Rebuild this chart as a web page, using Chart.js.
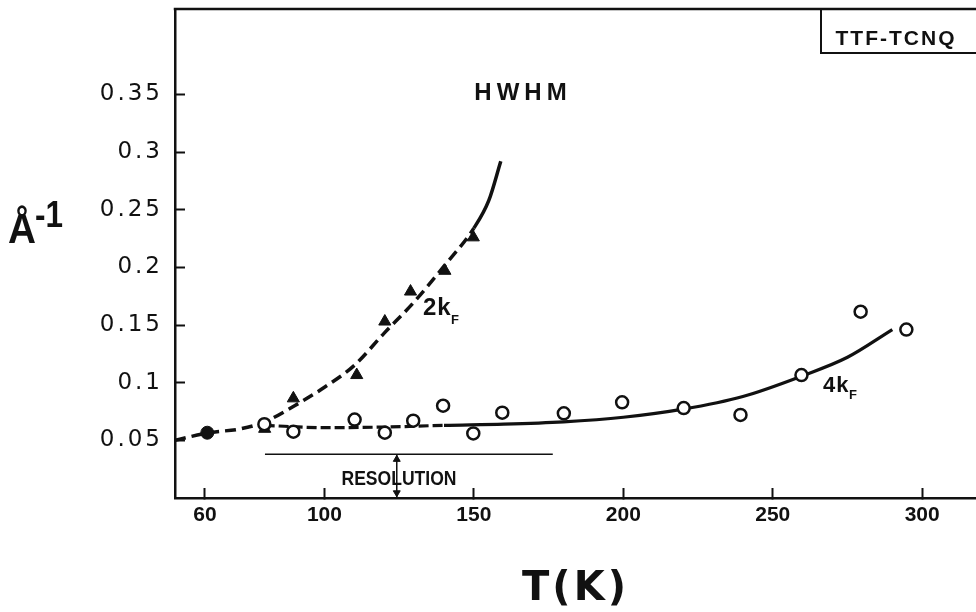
<!DOCTYPE html>
<html>
<head>
<meta charset="utf-8">
<title>TTF-TCNQ HWHM</title>
<script src="https://cdn.jsdelivr.net/npm/chart.js@4.4.1/dist/chart.umd.min.js"></script>
<style>
  html, body { margin: 0; padding: 0; background: #fff; }
  canvas { display: block; }
</style>
</head>
<body>
<canvas id="hwhmChart" width="976" height="612"></canvas>
<script>
// axis ticks
const tempTicks = [60, 100, 150, 200, 250, 300];
const widthTicks = [0.05, 0.1, 0.15, 0.2, 0.25, 0.3, 0.35];

const t2kF = [80, 89.6, 110.8, 120.2, 128.8, 140.3, 149.8];
const w2kF = [0.060, 0.0864, 0.1066, 0.153, 0.179, 0.197, 0.226];

const t4kF = [79.9, 89.6, 110.1, 120.2, 129.7, 139.7, 149.8, 159.5, 180.1, 199.6, 220.2, 239.2, 259.6, 279.4, 294.7];
const w4kF = [0.064, 0.0575, 0.068, 0.0566, 0.067, 0.080, 0.056, 0.074, 0.0734, 0.083, 0.078, 0.072, 0.1066, 0.1615, 0.146];

const tBoth = [60.8];
const wBoth = [0.0566];

// hand drawn guide curves
const tCurve2k = [50, 61, 72, 80, 90, 100, 110, 120, 130, 140, 150, 155, 159];
const wCurve2k = [0.050, 0.0565, 0.060, 0.066, 0.080, 0.096, 0.115, 0.143, 0.170, 0.201, 0.234, 0.258, 0.292];
const tCurve4k = [80, 100, 120, 140, 160, 180, 200, 220, 240, 260, 275, 290];
const wCurve4k = [0.063, 0.061, 0.0615, 0.063, 0.064, 0.066, 0.070, 0.077, 0.088, 0.106, 0.122, 0.146];

// resolution bar and its double arrow
const tResolution = [80.1, 176.4];
const wResolution = [0.038, 0.038];
const tArrow = [124.2, 124.2];
const wArrow = [0.038, 0];
const wArrowHeads = [0.0335, 0.0045];

const INK = '#111';
const pts = (xs, ys) => xs.map((x, i) => ({ x: x, y: ys[i] }));

function put(ctx, str, x, y, font, spacing, align, maxW) {
  ctx.font = font;
  ctx.letterSpacing = spacing || '0px';
  ctx.textAlign = align || 'center';
  if (maxW) ctx.fillText(str, x, y, maxW);
  else ctx.fillText(str, x, y);
}

// keep the plot area fixed: no extra room for edge labels
function noEdgePadding(s) {
  s.paddingTop = 0;
  s.paddingBottom = 0;
  s.paddingLeft = 0;
  s.paddingRight = 0;
}

const annotations = {
  id: 'annotations',
  beforeDraw(chart) {
    const ctx = chart.ctx;
    ctx.save();
    ctx.fillStyle = '#fff';
    ctx.fillRect(0, 0, chart.width, chart.height);
    ctx.restore();
    ctx.letterSpacing = '0px';
  },
  // y tick labels and the x title are drawn after this, spaced out like the original lettering
  afterDatasetsDraw(chart) {
    chart.ctx.letterSpacing = '3px';
  },
  afterDraw(chart) {
    const ctx = chart.ctx;
    const a = chart.chartArea;
    ctx.save();
    ctx.strokeStyle = INK;
    ctx.fillStyle = INK;

    // top of the frame
    ctx.lineWidth = 2.5;
    ctx.beginPath();
    ctx.moveTo(a.left - 1.25, a.top);
    ctx.lineTo(a.right, a.top);
    ctx.stroke();

    // compound box, top right
    ctx.lineWidth = 2;
    ctx.strokeRect(821, a.top, 200, 44);

    ctx.textBaseline = 'alphabetic';
    put(ctx, 'TTF-TCNQ', 896, 45, 'bold 21px "Liberation Sans"', '2px', 'center', 126);
    put(ctx, 'HWHM', 523, 100, 'bold 24px "Liberation Sans"', '5px');

    put(ctx, '2k', 423, 315, 'bold 24px "Liberation Sans"', '1px', 'left');
    put(ctx, 'F', 451, 324, 'bold 13px "Liberation Sans"', '0px', 'left');
    put(ctx, '4k', 823, 392, 'bold 22px "Liberation Sans"', '1px', 'left');
    put(ctx, 'F', 849, 399, 'bold 13px "Liberation Sans"', '0px', 'left');

    put(ctx, 'RESOLUTION', 399, 485, 'bold 20px "Liberation Sans"', '0px', 'center', 115);

    // y axis title
    put(ctx, 'Å', 8, 243, 'bold 43px "Liberation Sans"', '0px', 'left', 28);
    put(ctx, '-1', 35, 227, 'bold 36px "Liberation Sans"', '0px', 'left', 28);

    ctx.restore();
    ctx.letterSpacing = '0px';
  }
};

const ctx = document.getElementById('hwhmChart').getContext('2d');
new Chart(ctx, {
  type: 'scatter',
  data: {
    datasets: [
      {
        label: '2kF curve',
        data: pts(tCurve2k, wCurve2k),
        showLine: true,
        pointRadius: 0,
        borderColor: INK,
        borderWidth: 3.5,
        cubicInterpolationMode: 'monotone',
        segment: { borderDash: c => (c.p1.parsed.x <= 150.5 ? [11, 6] : undefined) },
        order: 5
      },
      {
        label: '4kF curve',
        data: pts(tCurve4k, wCurve4k),
        showLine: true,
        pointRadius: 0,
        borderColor: INK,
        borderWidth: 3.2,
        cubicInterpolationMode: 'monotone',
        segment: { borderDash: c => (c.p1.parsed.x <= 140.5 ? [10, 4] : undefined) },
        order: 5
      },
      {
        label: 'resolution',
        data: pts(tResolution, wResolution),
        showLine: true,
        pointRadius: 0,
        borderColor: INK,
        borderWidth: 1.5,
        order: 5
      },
      {
        label: 'resolution arrow',
        data: pts(tArrow, wArrow),
        showLine: true,
        pointRadius: 0,
        borderColor: INK,
        borderWidth: 1.5,
        order: 5
      },
      {
        label: 'arrow heads',
        data: pts(tArrow, wArrowHeads),
        pointStyle: 'triangle',
        pointRotation: [0, 180],
        pointRadius: 4,
        backgroundColor: INK,
        borderColor: INK,
        borderWidth: 1,
        order: 4
      },
      {
        label: '2kF',
        data: pts(t2kF, w2kF),
        pointStyle: 'triangle',
        pointRadius: 7,
        backgroundColor: INK,
        borderColor: INK,
        borderWidth: 1,
        order: 2
      },
      {
        label: '4kF',
        data: pts(t4kF, w4kF),
        pointStyle: 'circle',
        pointRadius: 6,
        backgroundColor: '#fff',
        borderColor: INK,
        borderWidth: 2.5,
        order: 1
      },
      {
        label: 'both',
        data: pts(tBoth, wBoth),
        pointStyle: 'circle',
        pointRadius: 6.5,
        backgroundColor: INK,
        borderColor: INK,
        borderWidth: 1,
        order: 0
      }
    ]
  },
  options: {
    responsive: false,
    animation: false,
    events: [],
    layout: { autoPadding: false, padding: { top: 9, left: 0, right: 0, bottom: 0 } },
    plugins: {
      legend: { display: false },
      tooltip: { enabled: false }
    },
    scales: {
      x: {
        type: 'linear',
        min: 50,
        max: 318,
        afterBuildTicks: s => { s.ticks = tempTicks.map(v => ({ value: v })); },
        afterFit: s => { s.height = 114; noEdgePadding(s); },
        ticks: {
          color: INK,
          font: { family: 'Liberation Sans', size: 21, weight: 'bold' },
          padding: 15,
          maxRotation: 0,
          autoSkip: false
        },
        grid: { drawOnChartArea: false, tickLength: -10, tickWidth: 2, tickColor: INK, z: 1 },
        border: { color: INK, width: 2.5, z: 1 },
        title: {
          display: true,
          text: 'T(K)',
          color: INK,
          font: { family: 'DejaVu Sans', size: 40, weight: 'bold', lineHeight: 1 },
          padding: { top: 0, bottom: 2 }
        }
      },
      y: {
        type: 'linear',
        min: 0,
        max: 0.424,
        afterBuildTicks: s => { s.ticks = widthTicks.map(v => ({ value: v })); },
        afterFit: s => { s.width = 175; noEdgePadding(s); },
        ticks: {
          color: INK,
          font: { family: 'DejaVu Sans', size: 23 },
          padding: 22,
          z: 1,
          autoSkip: false,
          callback: v => String(v)
        },
        grid: { drawOnChartArea: false, tickLength: -10, tickWidth: 2, tickColor: INK },
        border: { color: INK, width: 2.5 }
      }
    }
  },
  plugins: [annotations]
});
</script>
</body>
</html>
